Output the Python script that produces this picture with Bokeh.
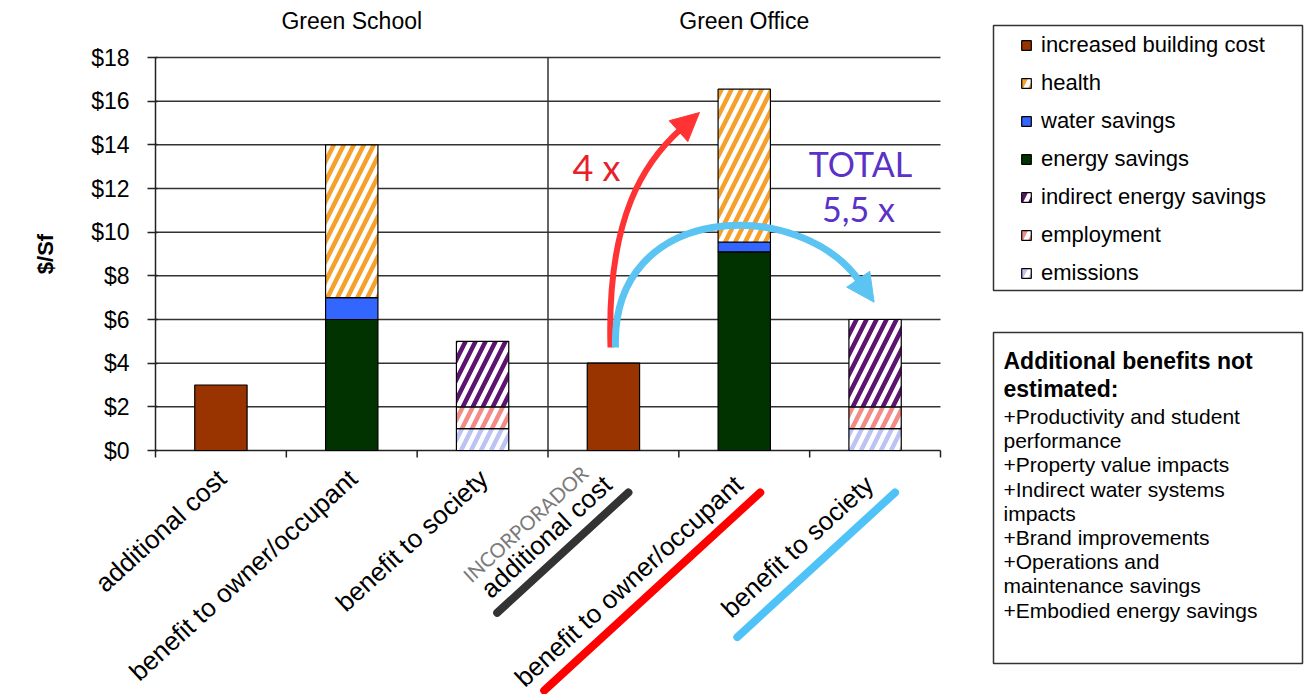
import math
import numpy as np
from bokeh.plotting import figure
from bokeh.models import Range1d, FixedTicker, NumeralTickFormatter, Legend, LegendItem, Arrow, NormalHead
from bokeh.core.properties import value
from bokeh.embed import file_html
from bokeh.resources import INLINE

# ---------------- data ----------------
group_titles = ["Green School", "Green Office"]
categories = ["additional cost", "benefit to owner/occupant", "benefit to society",
              "additional cost", "benefit to owner/occupant", "benefit to society"]
series_names = ["increased building cost", "health", "water savings", "energy savings",
                "indirect energy savings", "employment", "emissions"]
increased_building_cost = [3, 0, 0, 4, 0, 0]
health = [0, 7, 0, 0, 7, 0]
water_savings = [0, 1, 0, 0, 0.45, 0]
energy_savings = [0, 6, 0, 0, 9.1, 0]
indirect_energy_savings = [0, 0, 3, 0, 0, 4]
employment = [0, 0, 1, 0, 0, 1]
emissions = [0, 0, 1, 0, 0, 1]
y_ticks = [0, 2, 4, 6, 8, 10, 12, 14, 16, 18]
note_title = ["Additional benefits not", "estimated:"]
note_lines = ["+Productivity and student", "performance", "+Property value impacts",
              "+Indirect water systems", "impacts", "+Brand improvements",
              "+Operations and", "maintenance savings", "+Embodied energy savings"]
developer_label = "INCORPORADOR"
ratio_owner = "4 x"
ratio_total = ["TOTAL", "5,5 x"]

series_values = {
    "increased building cost": increased_building_cost,
    "health": health,
    "water savings": water_savings,
    "energy savings": energy_savings,
    "indirect energy savings": indirect_energy_savings,
    "employment": employment,
    "emissions": emissions,
}

# ---------------- layout helpers (pixels -> data) ----------------
W, H = 1304, 694
LEFT = 155          # pixel position of x = 0
X_END_PX = 940      # pixel position of the last category edge
Y0_PX, Y18_PX = 450, 57
UX = (X_END_PX - LEFT) / len(categories)
UY = (Y0_PX - Y18_PX) / 18.0


def X(px):
    return (px - LEFT) / UX


def Y(py):
    return (Y0_PX - py) / UY


FONT = value("Liberation Sans")

p = figure(width=W, height=H, x_range=Range1d(X(0), X(W)), y_range=Range1d(Y(H), Y(0)),
           x_axis_location=None, output_backend="svg", toolbar_location=None,
           min_border=0)
p.outline_line_color = None
p.grid.visible = False
p.background_fill_color = "white"
p.border_fill_color = "white"

# y axis, drawn at x = 0 inside the canvas
ax = p.yaxis[0]
ax.fixed_location = 0
ax.bounds = (0, 18)
ax.ticker = FixedTicker(ticks=y_ticks)
ax.formatter = NumeralTickFormatter(format="$0")
ax.minor_tick_line_color = None
ax.major_tick_out = 8
ax.major_tick_in = 2
ax.axis_line_color = "#222222"
ax.axis_line_width = 1.5
ax.major_tick_line_color = "#222222"
ax.major_tick_line_width = 1.5
ax.major_label_text_font = "Liberation Sans"
ax.major_label_text_font_size = "23px"
ax.major_label_text_color = "black"
ax.major_label_standoff = 18
ax.axis_label = "$/Sf"
ax.axis_label_text_font = "Liberation Sans"
ax.axis_label_text_font_style = "bold"
ax.axis_label_text_font_size = "22px"
ax.axis_label_text_color = "black"
ax.axis_label_standoff = 30

ncat = len(categories)
# gridlines
gy = y_ticks[1:]
p.segment(x0=[0] * len(gy), y0=gy, x1=[ncat] * len(gy), y1=gy, line_color="#333333", line_width=1.5)
# group divider
p.segment(x0=[ncat / 2], y0=[0], x1=[ncat / 2], y1=[y_ticks[-1]], line_color="#333333", line_width=1.5)
# baseline + category ticks
p.segment(x0=[0], y0=[0], x1=[ncat], y1=[0], line_color="#222222", line_width=1.5)
tx = list(range(ncat + 1))
p.segment(x0=tx, y0=[0] * len(tx), x1=tx, y1=[-7 / UY] * len(tx), line_color="#222222", line_width=1.5)

# ---------------- stacked bars ----------------
stack_order = ["emissions", "employment", "indirect energy savings", "energy savings",
               "water savings", "health", "increased building cost"]
styles = {
    "increased building cost": ("#993300", None),
    "health": ("white", "#F5A02A"),
    "water savings": ("#3366FF", None),
    "energy savings": ("#003300", None),
    "indirect energy savings": ("white", "#5C1470"),
    "employment": ("white", "#F28A86"),
    "emissions": ("white", "#BCC2F4"),
}
xs = np.arange(ncat) + 0.5
bottom = np.zeros(ncat)
renderers = {}
for name in stack_order:
    vals = np.array(series_values[name], dtype=float)
    mask = vals > 0
    fill, hatch = styles[name]
    kw = {}
    if hatch:
        kw = dict(hatch_pattern="/", hatch_color=hatch, hatch_weight=4.5, hatch_scale=20)
    r = p.vbar(x=xs[mask].tolist(), bottom=bottom[mask].tolist(), top=(bottom + vals)[mask].tolist(),
               width=0.4, fill_color=fill, line_color="black", line_width=1.2, **kw)
    renderers[name] = r
    bottom = bottom + vals

# ---------------- titles ----------------
p.text(x=[ncat / 4, 3 * ncat / 4], y=[Y(20), Y(20)], text=group_titles, text_font=FONT,
       text_font_size="23px", text_align="center", text_baseline="middle", text_color="black")

# ---------------- category labels ----------------
ANG = math.radians(42.5)
ca, sa = math.cos(ANG), math.sin(ANG)
half = ncat // 2
lab_x = [xs[i] - (9 if i < half else 16) / UX for i in range(ncat)]
lab_y = [Y(463 if i < half else 469) for i in range(ncat)]
p.text(x=lab_x, y=lab_y, text=categories, angle=ANG,
       text_font=FONT, text_font_size="26px", text_align="right", text_baseline="top",
       text_color="black")

# INCORPORADOR label above the office "additional cost"
p.text(x=[xs[3] - 21 / UX], y=[Y(478)], text=[developer_label], angle=ANG,
       text_font=value("Lato"), text_font_size="20px", text_align="right", text_baseline="bottom",
       text_color="#7a7a7a")

# coloured underlines for office categories
underlines = [(3, "#333333", 178, 15), (4, "#FF0000", 293, 16), (5, "#4FC3F7", 214, 20)]
for idx, col, length, off in underlines:
    ex = LEFT + (idx + 0.5) * UX + off
    ey = 492
    sxp = ex - length * ca
    syp = ey + length * sa
    p.line(x=[X(sxp), X(ex)], y=[Y(syp), Y(ey)], line_color=col, line_width=8, line_cap="round")


# ---------------- curved arrows ----------------
def curved_arrow(pts, color, width, head):
    (x0, y0), (x1, y1), (x2, y2), (x3, y3) = pts
    p.bezier(x0=[X(x0)], y0=[Y(y0)], x1=[X(x3)], y1=[Y(y3)], cx0=[X(x1)], cy0=[Y(y1)],
             cx1=[X(x2)], cy1=[Y(y2)], line_color=color, line_width=width)
    ddx, ddy = x3 - x2, y3 - y2
    n = math.hypot(ddx, ddy)
    tipx, tipy = x3 + head * ddx / n, y3 + head * ddy / n
    p.add_layout(Arrow(end=NormalHead(size=head + 4, fill_color=color, line_color=color),
                       x_start=X(x3 - 2 * ddx / n), y_start=Y(y3 - 2 * ddy / n),
                       x_end=X(tipx), y_end=Y(tipy), line_color=color, line_width=width))


curved_arrow([(610, 347), (606, 215), (645, 160), (681, 128)], "#FF3333", 6, 24)
curved_arrow([(615, 347), (610, 200), (800, 195), (860, 282)], "#5BC4F2", 7, 24)

p.text(x=[X(596)], y=[Y(166)], text=[ratio_owner], text_font=value("Lato"), text_font_size="36px",
       text_align="center", text_baseline="middle", text_color="#E8202A")
p.text(x=[X(860), X(858)], y=[Y(163), Y(208)], text=ratio_total, text_font=value("Lato"),
       text_font_size="34px", text_align="center", text_baseline="middle", text_color="#5A32C8")

# ---------------- legend ----------------
p.quad(left=[X(993)], right=[X(1302)], top=[Y(25)], bottom=[Y(290)], fill_color=None,
       line_color="#333333", line_width=1.5)
legend = Legend(items=[LegendItem(label=n, renderers=[renderers[n]]) for n in series_names],
                location=(1010, H - 296), orientation="vertical")
legend.padding = 10
legend.margin = 0
legend.spacing = 12
legend.glyph_width = 12
legend.glyph_height = 12
legend.label_height = 26
legend.label_width = 255
legend.label_standoff = 9
legend.label_text_font = "Liberation Sans"
legend.label_text_font_size = "22px"
legend.label_text_color = "black"
legend.border_line_alpha = 0
legend.background_fill_alpha = 0
p.add_layout(legend)

# ---------------- note box ----------------
p.quad(left=[X(993)], right=[X(1302)], top=[Y(332)], bottom=[Y(663)], fill_color=None,
       line_color="#333333", line_width=1.5)
p.text(x=[X(1003)] * len(note_title), y=[Y(360 + 28 * i) for i in range(len(note_title))],
       text=note_title, text_font=FONT, text_font_style="bold", text_font_size="23px",
       text_align="left", text_baseline="alphabetic", text_color="black")
p.text(x=[X(1003)] * len(note_lines), y=[Y(416 + 24.2 * i) for i in range(len(note_lines))],
       text=note_lines, text_font=FONT, text_font_size="21px",
       text_align="left", text_baseline="alphabetic", text_color="black")

open("out.html", "w").write(file_html(p, INLINE))
